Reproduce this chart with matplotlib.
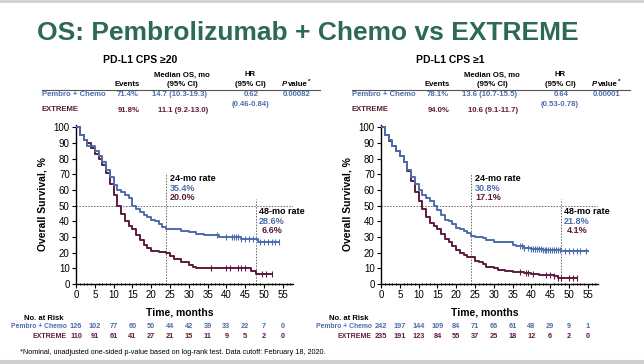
import matplotlib
matplotlib.use("Agg")
import matplotlib.pyplot as plt
import numpy as np
from matplotlib.lines import Line2D
from matplotlib.ticker import MultipleLocator
import matplotlib.transforms as mtransforms

plt.rcParams["font.family"] = ["Liberation Sans", "DejaVu Sans"]

BLUE = "#4d6cab"
MAROON = "#5e1b3d"
GREEN = "#2d6a52"

# ---- data: CPS >= 20 ----
l_pem_t = [0, 1, 2, 3, 5, 6, 7, 8, 9, 10, 11, 12, 13, 14, 15, 16, 17, 18, 19, 20, 21, 22, 23, 24,
           26, 28, 30, 32, 34, 36, 38, 44, 46, 48.5, 54]
l_pem_s = [100, 95, 92, 88, 85, 82, 78, 73, 68, 63, 60, 59, 57, 55, 50, 48, 46, 44, 43, 41, 40, 38, 36.5, 35.4,
           35, 34, 33, 32, 31.5, 31, 30, 29, 28.6, 27, 27]
l_ext_t = [0, 1, 2, 3, 4, 5, 6, 7, 8, 9, 10, 11, 12, 13, 14, 15, 16, 17, 18, 19, 20, 22, 24,
           25, 26, 28, 30, 31, 32, 46.5, 48, 52]
l_ext_s = [100, 95, 92, 90, 87, 83, 80, 76, 71, 64, 57, 50, 45, 40, 37, 35, 31, 28, 25, 23, 21, 20.5, 20,
           18, 16, 14, 12, 11, 10, 8, 6.6, 6.6]
l_pem_cens = [37.5, 40, 41.5, 42, 42.5, 43, 44, 45, 46, 47, 49, 50, 51, 52, 53, 54]
l_ext_cens = [36, 40, 41, 43, 44, 45, 49.5, 50.5, 52]

# ---- data: CPS >= 1 ----
r_pem_t = [0, 1, 2, 3, 4, 5, 6, 7, 8, 9, 10, 11, 12, 13, 14, 15, 16, 17, 18, 19, 20, 21, 22, 23, 24,
           25, 27, 28, 30, 33, 35, 36, 38, 40, 43, 46, 48, 55]
r_pem_s = [100, 95, 92, 88, 85, 82, 78, 73, 68, 64, 60, 57, 55, 53, 50, 47, 44, 41, 40, 38, 36, 35, 34, 32.5, 30.8,
           30, 29.5, 28, 27, 26.5, 25, 24, 23, 22.5, 22, 21.8, 21, 21]
r_ext_t = [0, 1, 2, 3, 4, 5, 6, 7, 8, 9, 10, 11, 12, 13, 14, 15, 16, 17, 18, 19, 20, 21, 22, 23, 24,
           25, 26, 27, 28, 30, 31, 33, 35, 38, 40, 42, 44, 46, 47, 52]
r_ext_s = [100, 95, 91, 88, 85, 82, 78, 72, 66, 59, 53, 48, 43, 39, 37, 35, 32, 29, 27, 24, 22, 20, 18.5, 17.5, 17.1,
           15, 14, 12.5, 11, 10, 9, 8, 7.5, 7, 6.5, 6, 5.5, 5, 4.1, 4.1]
r_pem_cens = [37, 37.5, 38, 39, 40, 40.5, 41, 41.5, 42, 42.5, 43, 43.5, 44, 44.5, 45, 45.5, 46, 46.5, 47, 47.5,
              49, 50, 51, 52, 53, 54.5]
r_ext_cens = [37, 38.5, 39, 40.5, 44, 45, 46, 47, 48, 50, 51, 52]

risk_times = [0, 5, 10, 15, 20, 25, 30, 35, 40, 45, 50, 55]
l_risk_pem = [126, 102, 77, 60, 50, 44, 42, 39, 33, 22, 7, 0]
l_risk_ext = [110, 91, 61, 41, 27, 21, 15, 11, 9, 5, 2, 0]
r_risk_pem = [242, 197, 144, 109, 84, 71, 66, 61, 48, 29, 9, 1]
r_risk_ext = [235, 191, 123, 84, 55, 37, 25, 18, 12, 6, 2, 0]

panels = [
    dict(sub="PD-L1 CPS ≥20", left=76, pem=(l_pem_t, l_pem_s, l_pem_cens), ext=(l_ext_t, l_ext_s, l_ext_cens),
         events=("71.4%", "91.8%"), median=("14.7 (10.3-19.3)", "11.1 (9.2-13.0)"),
         hr=("0.62", "(0.46-0.84)"), p="0.00082",
         r24=("35.4%", "20.0%"), r48=("28.6%", "6.6%"), risk=(l_risk_pem, l_risk_ext)),
    dict(sub="PD-L1 CPS ≥1", left=381, pem=(r_pem_t, r_pem_s, r_pem_cens), ext=(r_ext_t, r_ext_s, r_ext_cens),
         events=("78.1%", "94.0%"), median=("13.6 (10.7-15.5)", "10.6 (9.1-11.7)"),
         hr=("0.64", "(0.53-0.78)"), p="0.00001",
         r24=("30.8%", "17.1%"), r48=("21.8%", "4.1%"), risk=(r_risk_pem, r_risk_ext)),
]

W, H = 644, 364
fig = plt.figure(figsize=(W / 100, H / 100), dpi=100)
fig.patch.set_facecolor("white")


def fx(px):
    return px / W


def fy(py):
    return 1 - py / H


fig.text(fx(308), fy(33), "OS: Pembrolizumab + Chemo vs EXTREME", ha="center", va="center",
         fontsize=19, fontweight="bold", color=GREEN)

# thin grey frame lines top and bottom
fig.add_artist(Line2D([0, 1], [fy(1), fy(1)], color="#cfcfcf", lw=2))
fig.add_artist(Line2D([0, 1], [fy(362), fy(362)], color="#cfcfcf", lw=3))

fs_tab = 5.6
for i, p in enumerate(panels):
    off = 310 * i
    fig.text(fx(140 + off), fy(60), p["sub"], ha="center", va="center", fontsize=7.5, fontweight="bold")
    # summary table
    fig.text(fx(127 + off), fy(84), "Events", ha="center", va="center", fontsize=fs_tab, fontweight="bold")
    fig.text(fx(182 + off), fy(75), "Median OS, mo", ha="center", va="center", fontsize=fs_tab, fontweight="bold")
    fig.text(fx(182 + off), fy(84), "(95% CI)", ha="center", va="center", fontsize=fs_tab, fontweight="bold")
    fig.text(fx(250 + off), fy(75), "HR", ha="center", va="center", fontsize=fs_tab, fontweight="bold")
    fig.text(fx(250 + off), fy(84), "(95% CI)", ha="center", va="center", fontsize=fs_tab, fontweight="bold")
    fig.text(fx(287 + off), fy(84), "P", ha="right", va="center", fontsize=fs_tab,
             fontweight="bold", style="italic")
    fig.text(fx(288 + off), fy(84), "value", ha="left", va="center", fontsize=fs_tab, fontweight="bold")
    fig.text(fx(307.5 + off), fy(81), "*", ha="left", va="center", fontsize=4.5, fontweight="bold")
    fig.add_artist(Line2D([fx(42 + off), fx(320 + off)], [fy(89.5), fy(89.5)], color="#555555", lw=0.8))
    fig.text(fx(42 + off), fy(94), "Pembro + Chemo", ha="left", va="center", fontsize=fs_tab,
             fontweight="bold", color=BLUE)
    fig.text(fx(42 + off), fy(109), "EXTREME", ha="left", va="center", fontsize=fs_tab,
             fontweight="bold", color=MAROON)
    fig.text(fx(128 + off), fy(95), p["events"][0], ha="center", va="center", fontsize=fs_tab,
             fontweight="bold", color=BLUE)
    fig.text(fx(129 + off), fy(111), p["events"][1], ha="center", va="center", fontsize=fs_tab,
             fontweight="bold", color=MAROON)
    fig.text(fx(180 + off), fy(95), p["median"][0], ha="center", va="center", fontsize=fs_tab,
             fontweight="bold", color=BLUE)
    fig.text(fx(183 + off), fy(111), p["median"][1], ha="center", va="center", fontsize=fs_tab,
             fontweight="bold", color=MAROON)
    fig.text(fx(251 + off), fy(95), p["hr"][0], ha="center", va="center", fontsize=fs_tab,
             fontweight="bold", color=BLUE)
    fig.text(fx(250 + off), fy(105), p["hr"][1], ha="center", va="center", fontsize=fs_tab,
             fontweight="bold", color=BLUE)
    fig.text(fx(297 + off), fy(95), p["p"], ha="center", va="center", fontsize=fs_tab,
             fontweight="bold", color=BLUE)

    # KM axes
    xmax = 57.6
    x0 = p["left"]
    ax = fig.add_axes([fx(x0), fy(284), fx(xmax * 3.76), (284 - 125) / H])
    ax.set_xlim(0, xmax)
    ax.set_ylim(0, 101.5)
    for side in ("top", "right"):
        ax.spines[side].set_visible(False)
    for side in ("left", "bottom"):
        ax.spines[side].set_linewidth(1.0)
    ax.xaxis.set_major_locator(MultipleLocator(5))
    ax.xaxis.set_minor_locator(MultipleLocator(1))
    ax.yaxis.set_major_locator(MultipleLocator(10))
    ax.tick_params(axis="both", which="major", labelsize=7, length=3, width=0.8, pad=1.5)
    ax.tick_params(axis="x", which="minor", length=2, width=0.7, direction="inout")
    ax.set_xlabel("Time, months", fontsize=7.5, fontweight="bold")
    ax.xaxis.set_label_coords(0.48, -0.145)
    ax.set_ylabel("Overall Survival, %", fontsize=7.5, fontweight="bold")
    ax.yaxis.set_label_coords(-0.13, 0.5)

    for (t, s, cens), col in ((p["ext"], MAROON), (p["pem"], BLUE)):
        ax.plot(t, s, drawstyle="steps-post", color=col, lw=1.4, zorder=3)
        t_arr, s_arr = np.asarray(t), np.asarray(s)
        cy = s_arr[np.searchsorted(t_arr, cens, side="right") - 1]
        ax.plot(cens, cy, ls="none", marker="|", ms=4, mew=0.8, color=col, zorder=3)

    # reference lines
    ax.plot([0, xmax], [50, 50], ls=(0, (1.5, 1.5)), color="#666666", lw=0.7)
    ax.plot([24, 24], [0, 71], ls=(0, (1.5, 1.5)), color="#666666", lw=0.7)
    ax.plot([48, 48], [0, 54], ls=(0, (1.5, 1.5)), color="#666666", lw=0.7)

    ax.text(25, 67.5, "24-mo rate", fontsize=6.5, fontweight="bold", va="center")
    ax.text(25, 61, p["r24"][0], fontsize=6.5, fontweight="bold", va="center", color=BLUE)
    ax.text(25, 55, p["r24"][1], fontsize=6.5, fontweight="bold", va="center", color=MAROON)
    ax.text(48.6, 46, "48-mo rate", fontsize=6.5, fontweight="bold", va="center")
    ax.text(48.6, 40, p["r48"][0], fontsize=6.5, fontweight="bold", va="center", color=BLUE)
    ax.text(49.5, 34, p["r48"][1], fontsize=6.5, fontweight="bold", va="center", color=MAROON)

    # number at risk
    tr = mtransforms.blended_transform_factory(ax.transData, fig.transFigure)
    fig.text(fx(x0 - 52), fy(318), "No. at Risk", ha="left", va="center", fontsize=5.5, fontweight="bold")
    ax.text(-2.5, fy(327), "Pembro + Chemo", transform=tr, ha="right", va="center", fontsize=4.9,
            fontweight="bold", color=BLUE, clip_on=False)
    ax.text(-2.5, fy(337), "EXTREME", transform=tr, ha="right", va="center", fontsize=5.0,
            fontweight="bold", color=MAROON, clip_on=False)
    for t, a, b in zip(risk_times, p["risk"][0], p["risk"][1]):
        ax.text(t, fy(327), str(a), transform=tr, ha="center", va="center", fontsize=5.3,
                fontweight="bold", color=BLUE, clip_on=False)
        ax.text(t, fy(337), str(b), transform=tr, ha="center", va="center", fontsize=5.3,
                fontweight="bold", color=MAROON, clip_on=False)

fig.text(fx(20), fy(352),
         "*Nominal, unadjusted one-sided p-value based on log-rank test. Data cutoff: February 18, 2020.",
         ha="left", va="center", fontsize=5.2)

fig.savefig("out.png", dpi=100)
